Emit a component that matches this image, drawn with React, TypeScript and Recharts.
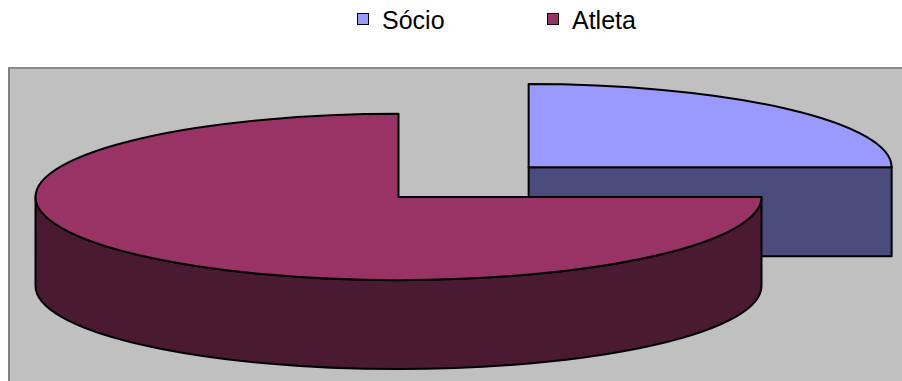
import React from 'react';
import { PieChart, Pie, Legend } from 'recharts';

// ---- data ----
const CATEGORIES = ['Sócio', 'Atleta'];
const VALUES = [25, 75];

// ---- styles ----
const TOP_COLORS = ['#9999FF', '#993366'];
const SIDE_COLORS = ['#4B4B7E', '#4A1A33'];
const EXPLODE = [0.507, 0]; // fraction of radius
const TILT = 0.229; // ellipse ry / rx
const DEPTH = 0.245; // thickness / rx
const LEGEND_X = [357, 547];
const FONT = '"Liberation Sans", Arial, Helvetica, sans-serif';

const data = CATEGORIES.map((name, i) => ({ name, value: VALUES[i] }));

const RAD = Math.PI / 180;

function Slice3D(props: any) {
  const { cx, cy, outerRadius, startAngle, endAngle, midAngle, index } = props;
  const s = Math.min(startAngle, endAngle);
  const e = Math.max(startAngle, endAngle);
  const rx = outerRadius;
  const ry = rx * TILT;
  const d = rx * DEPTH;
  const off = (EXPLODE[index] || 0) * rx;
  const ox = cx + off * Math.cos(midAngle * RAD);
  const oy = cy - off * Math.sin(midAngle * RAD) * TILT;
  const px = (a: number) => ox + rx * Math.cos(a * RAD);
  const py = (a: number) => oy - ry * Math.sin(a * RAD);
  const top = TOP_COLORS[index];
  const side = SIDE_COLORS[index];
  const strokeProps = { stroke: '#000', strokeWidth: 2, strokeLinejoin: 'round' as const };

  const faces: React.ReactNode[] = [];
  const radial = (a: number, key: string) => (
    <path
      key={key}
      d={`M${ox},${oy} L${px(a)},${py(a)} L${px(a)},${py(a) + d} L${ox},${oy + d} Z`}
      fill={side}
      {...strokeProps}
    />
  );
  if (Math.cos(s * RAD) > 0.01) faces.push(radial(s, 'rs'));
  if (Math.cos(e * RAD) < -0.01) faces.push(radial(e, 're'));

  const sides: React.ReactNode[] = [];
  for (let k = -1; k <= 1; k++) {
    const lo = 180 + 360 * k;
    const hi = 360 + 360 * k;
    const a = Math.max(s, lo);
    const b = Math.min(e, hi);
    if (b - a > 0.01) {
      sides.push(
        <path
          key={`side${k}`}
          d={`M${px(a)},${py(a)} A${rx},${ry} 0 0 0 ${px(b)},${py(b)} L${px(b)},${py(b) + d} A${rx},${ry} 0 0 1 ${px(a)},${py(a) + d} Z`}
          fill={side}
          {...strokeProps}
        />
      );
    }
  }

  const large = e - s > 180 ? 1 : 0;
  const topPath = `M${ox},${oy} L${px(s)},${py(s)} A${rx},${ry} 0 ${large} 0 ${px(e)},${py(e)} Z`;

  return (
    <g>
      {faces}
      {sides}
      <path d={topPath} fill={top} {...strokeProps} />
    </g>
  );
}

const renderSlice = (p: any) => <Slice3D {...p} />;

const LegendContent = () => (
  <div style={{ position: 'relative', width: 902, height: 40, fontFamily: FONT, fontSize: 25 }}>
    {CATEGORIES.map((c, i) => (
      <div key={c} style={{ position: 'absolute', left: LEGEND_X[i], top: 0, height: 40 }}>
        <div
          style={{
            position: 'absolute',
            left: 0,
            top: 13,
            width: 12,
            height: 12,
            boxSizing: 'border-box',
            background: TOP_COLORS[i],
            border: '1.5px solid #000',
          }}
        />
        <div
          style={{
            position: 'absolute',
            left: 25,
            top: 8,
            lineHeight: '25px',
            whiteSpace: 'nowrap',
            color: '#000',
          }}
        >
          {c}
        </div>
      </div>
    ))}
  </div>
);

export default function App() {
  return (
    <div
      style={{
        position: 'absolute',
        left: 0,
        top: 0,
        width: 902,
        height: 381,
        overflow: 'hidden',
        background: '#FFFFFF',
      }}
    >
      <div
        style={{
          position: 'absolute',
          left: 8,
          top: 67,
          width: 910,
          height: 400,
          boxSizing: 'border-box',
          background: '#C0C0C0',
          borderLeft: '2px solid #808080',
          borderTop: '2px solid #8A8A8A',
        }}
      />
      <div style={{ position: 'absolute', left: 0, top: 0 }}>
        <PieChart width={902} height={381} margin={{ top: 0, right: 0, bottom: 0, left: 0 }}>
          <Legend
            content={LegendContent}
            wrapperStyle={{ top: 0, left: 0, bottom: 'auto', width: 902, height: 40 }}
          />
          <Pie
            data={data}
            dataKey="value"
            nameKey="name"
            cx={398.5}
            cy={197}
            outerRadius={363}
            startAngle={0}
            endAngle={360}
            fill="none"
            stroke="none"
            isAnimationActive={false}
            labelLine={false}
            label={renderSlice}
          />
        </PieChart>
      </div>
    </div>
  );
}
